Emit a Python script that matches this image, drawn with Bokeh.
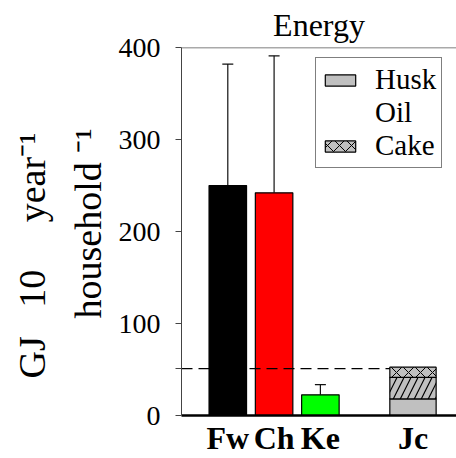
from bokeh.plotting import figure
from bokeh.models import (ColumnDataSource, Range1d, FixedTicker, Span, Title,
                          Whisker, TeeHead, Legend, LegendItem)
from bokeh.embed import file_html
from bokeh.resources import INLINE

# ---- data ----
categories = ["Fw", "Ch", "Ke", "Jc"]
positions = [1, 2, 3, 5]
single_values = [250, 242, 22.5]
single_upper = [382, 391, 33.5]
single_colors = ["#000000", "#ff0000", "#00ff00"]
jc_husk = 18
jc_oil = 23.5
jc_cake = 11
reference_level = 51
y_ticks = [0, 100, 200, 300, 400]

SERIF = "Liberation Serif"
NB = "\u00a0"

p = figure(width=456, height=458, output_backend="svg", toolbar_location=None,
           x_range=Range1d(0, 5.94), y_range=Range1d(0, 400),
           min_border_left=181, min_border_right=0, min_border_top=47,
           min_border_bottom=42)
p.outline_line_color = None
p.xgrid.visible = False
p.ygrid.visible = False
p.background_fill_color = "white"

# title
p.title.text = "Energy"
p.title.align = "center"
p.title.text_font = SERIF
p.title.text_font_size = "32px"
p.title.text_font_style = "normal"
p.title.text_color = "black"
p.title.standoff = 9

# single bars
src = ColumnDataSource(dict(x=positions[:3], top=single_values, upper=single_upper,
                            color=single_colors))
p.vbar(x="x", top="top", bottom=0, width=0.81, source=src, fill_color="color",
       line_color="black", line_width=1.2)
p.add_layout(Whisker(source=src, base="x", lower="top", upper="upper",
                     line_color="#111111", line_width=1.2, lower_head=None,
                     upper_head=TeeHead(size=11, line_color="#111111", line_width=1.2)))

# stacked Jc bar
jx = positions[3]
husk_r = p.vbar(x=[jx], bottom=[0], top=[jc_husk], width=1.0, fill_color="#c0c0c0",
                line_color="black", line_width=1.2)
oil_r = p.vbar(x=[jx], bottom=[jc_husk], top=[jc_husk + jc_oil], width=1.0,
               fill_color="#c0c0c0", line_color="black", line_width=1.2,
               hatch_pattern="/", hatch_color="black", hatch_scale=14, hatch_weight=1.2)
cake_r = p.vbar(x=[jx], bottom=[jc_husk + jc_oil], top=[jc_husk + jc_oil + jc_cake],
                width=1.0, fill_color="#c0c0c0", line_color="black", line_width=1.2,
                hatch_pattern="x", hatch_color="black", hatch_scale=12, hatch_weight=1)

# dashed reference line
p.line(x=[0, 4.5], y=[reference_level, reference_level], line_color="black",
       line_width=1.2, line_dash="11 6")

# top frame line
p.add_layout(Span(location=400, dimension="width", line_color="#555555", line_width=1.5))

# axes
yax = p.yaxis[0]
yax.ticker = FixedTicker(ticks=y_ticks + [reference_level])
yax.major_label_overrides = {reference_level: ""}
yax.minor_tick_line_color = None
yax.major_tick_in = 0
yax.major_tick_out = 6
yax.axis_line_color = "#444444"
yax.major_tick_line_color = "#444444"
yax.major_label_text_font = SERIF
yax.major_label_text_font_size = "28px"
yax.major_label_text_color = "black"
yax.major_label_standoff = 15

xax = p.xaxis[0]
xax.ticker = FixedTicker(ticks=positions)
xax.major_label_overrides = {pos: c for pos, c in zip(positions, categories)}
xax.major_tick_line_color = None
xax.minor_tick_line_color = None
xax.axis_line_color = "black"
xax.axis_line_width = 2.5
xax.major_label_text_font = SERIF
xax.major_label_text_font_style = "bold"
xax.major_label_text_font_size = "32px"
xax.major_label_text_color = "black"
xax.major_label_standoff = -2

# y axis label, two lines (inner line first)
p.add_layout(Title(text="household" + NB + "\u207b\u00b9", align="left", offset=97,
                   text_font=SERIF, text_font_size="38px", text_font_style="normal",
                   text_color="black", standoff=13), "left")
p.add_layout(Title(text="GJ" + NB * 3 + "10" + NB * 5 + "year" + "\u207b\u00b9",
                   align="left", offset=37,
                   text_font=SERIF, text_font_size="38px", text_font_style="normal",
                   text_color="black", standoff=11), "left")

# legend
blank_r = p.vbar(x=[jx], bottom=[0], top=[0], width=0.0, fill_alpha=0, line_alpha=0)
legend = Legend(items=[LegendItem(label="Husk", renderers=[husk_r]),
                       LegendItem(label="Oil", renderers=[blank_r]),
                       LegendItem(label="Cake", renderers=[cake_r])],
                location=(134, 247), label_text_font=SERIF, label_text_color="black",
                label_text_font_size="29px", glyph_width=38, glyph_height=14,
                label_standoff=16, spacing=0, padding=5, margin=0,
                border_line_color="black", border_line_width=1.5,
                background_fill_alpha=1)
p.add_layout(legend, "center")

open("out.html", "w").write(file_html(p, INLINE))
